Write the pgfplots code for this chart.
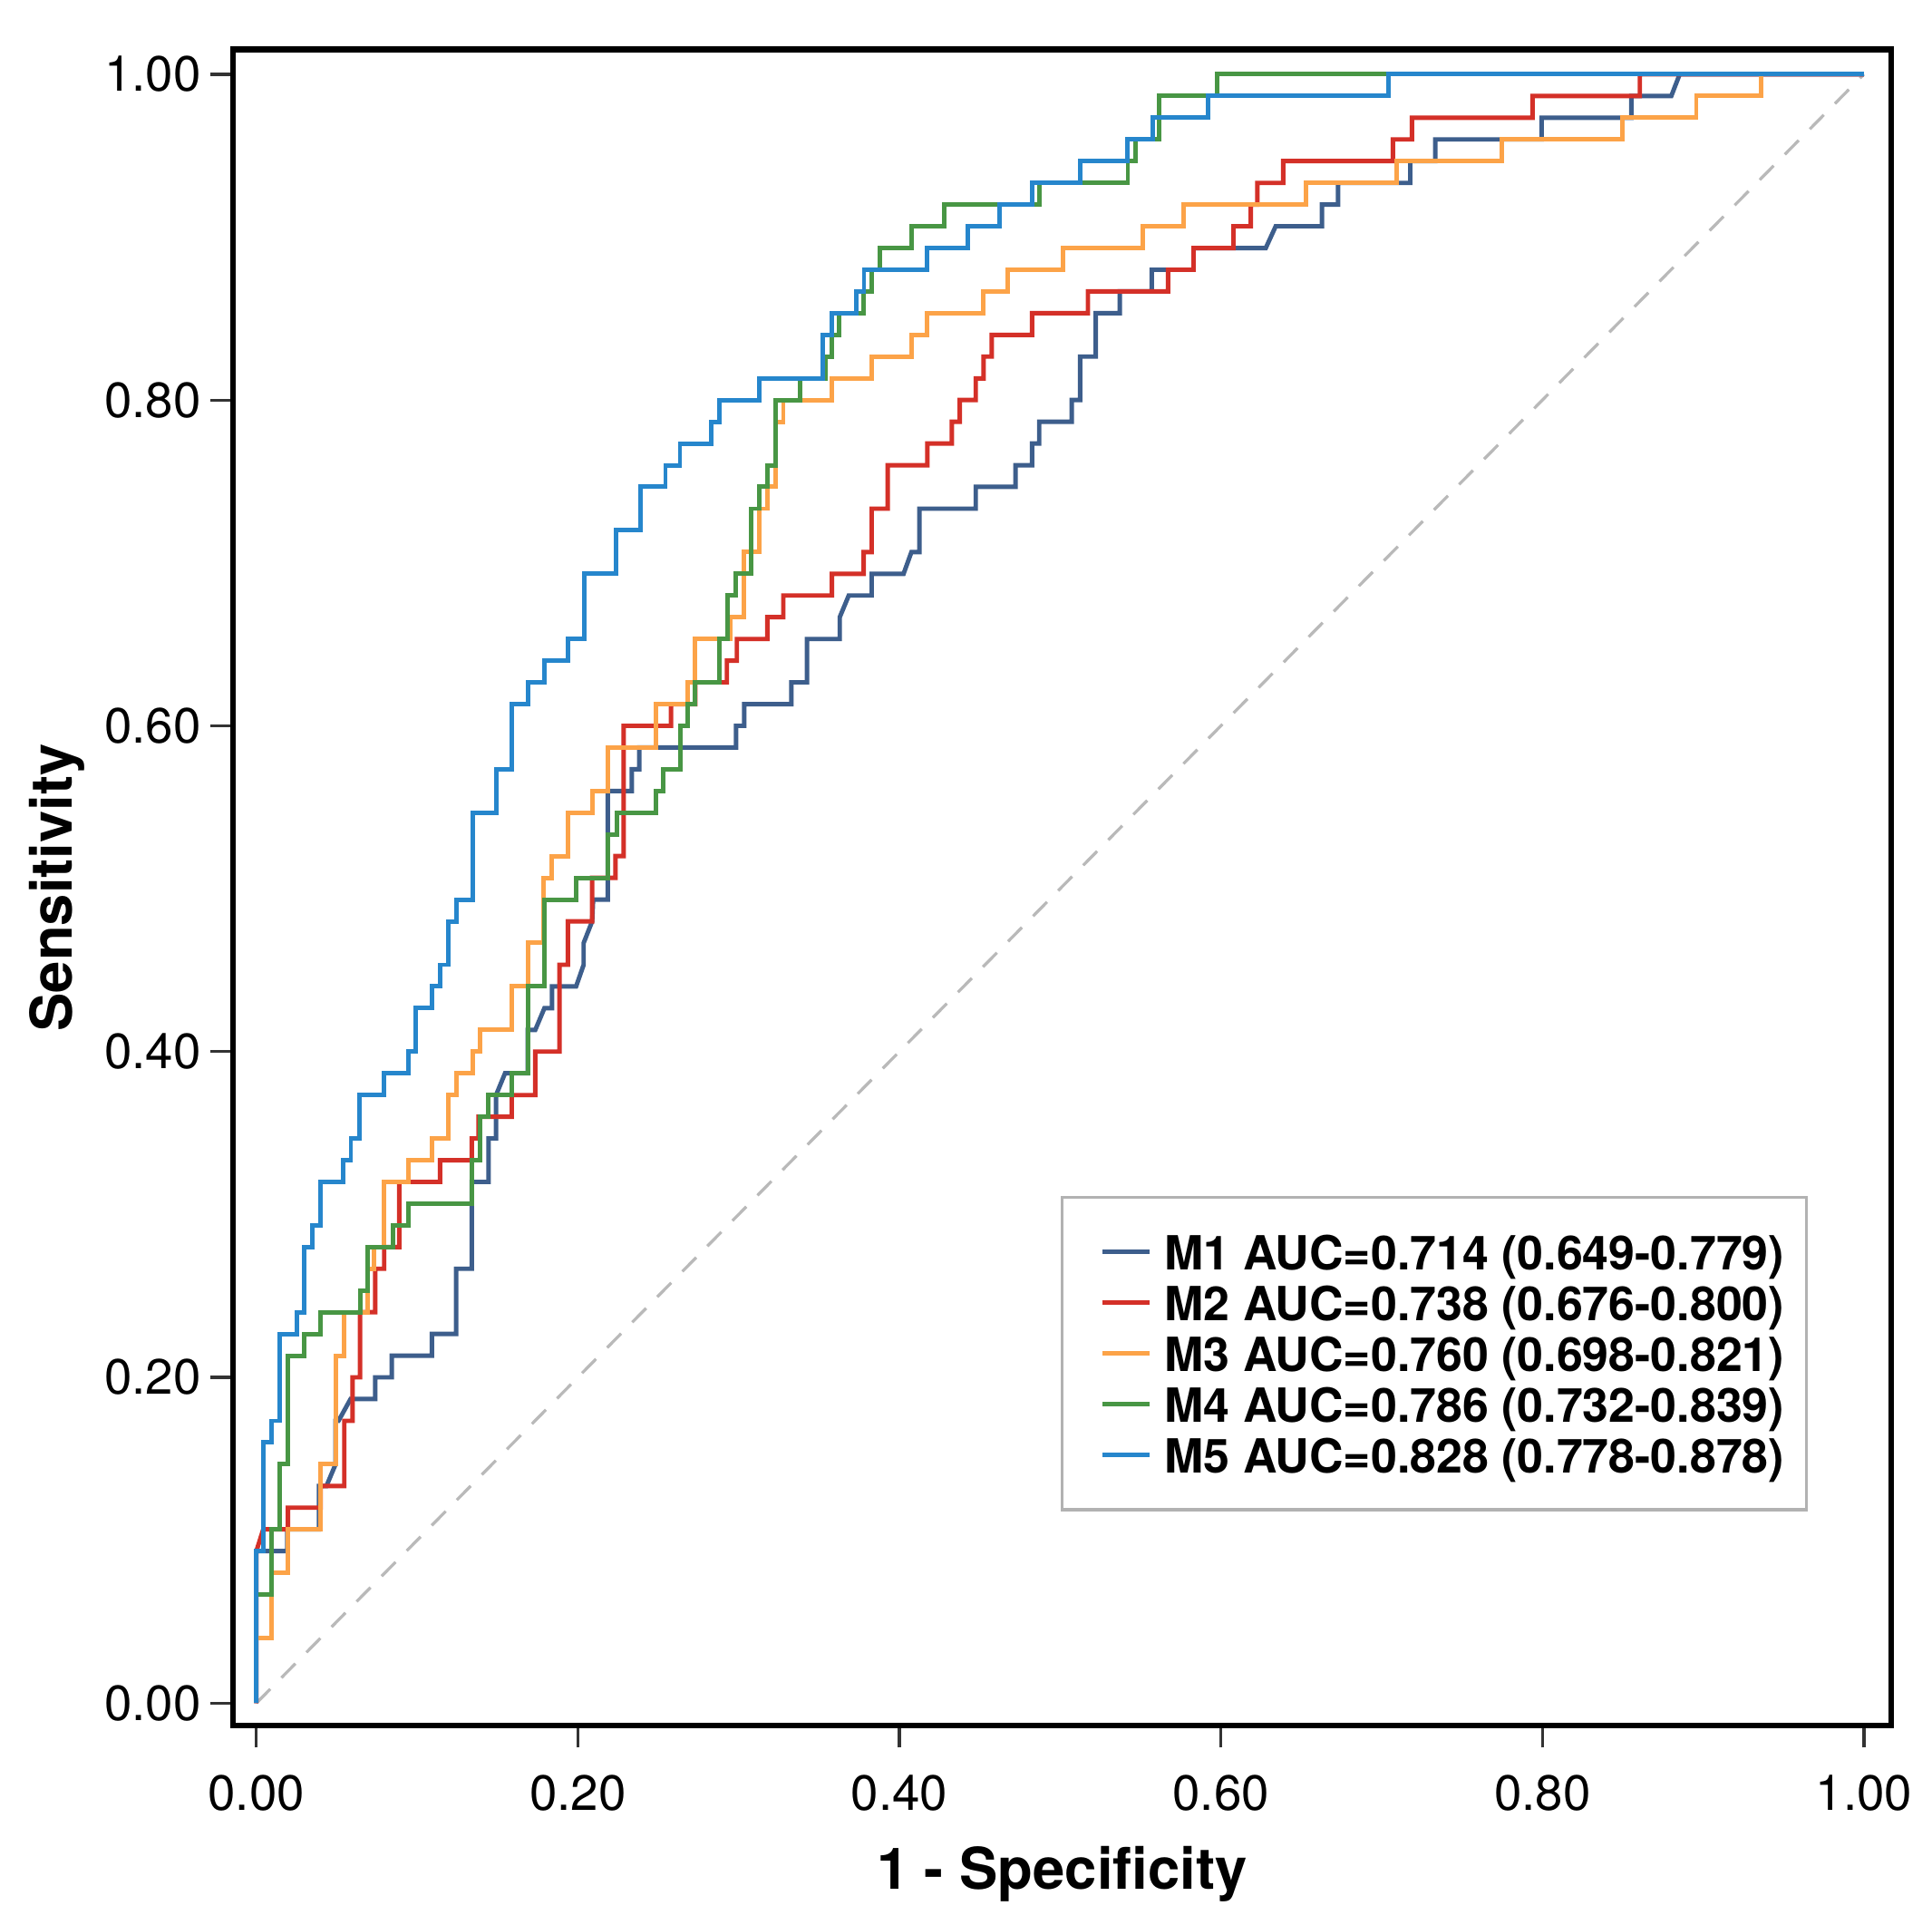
\documentclass[border=0pt]{standalone}
\usepackage{fontspec}
\setmainfont{TeX Gyre Heros}
\usepackage{pgfplots}
\usepackage{pgfplotstable}
\pgfplotsset{compat=1.18}

\definecolor{cMone}{RGB}{61,94,140}
\definecolor{cMtwo}{RGB}{212,48,40}
\definecolor{cMthree}{RGB}{252,163,72}
\definecolor{cMfour}{RGB}{72,150,68}
\definecolor{cMfive}{RGB}{38,134,204}
\definecolor{cDiag}{RGB}{185,185,185}

\pgfplotstableread{
x y
0 0
0 0.0933
0.0192 0.0933
0.0192 0.1067
0.0389 0.1067
0.0389 0.1333
0.0436 0.1333
0.0493 0.1467
0.0493 0.1733
0.0511 0.1733
0.0586 0.1867
0.0739 0.1867
0.0739 0.2000
0.0842 0.2000
0.0842 0.2133
0.1092 0.2133
0.1092 0.2267
0.1243 0.2267
0.1243 0.2667
0.1340 0.2667
0.1340 0.3200
0.1444 0.3200
0.1444 0.3467
0.1491 0.3467
0.1491 0.3733
0.1547 0.3867
0.1688 0.3867
0.1688 0.4133
0.1735 0.4133
0.1792 0.4267
0.1839 0.4267
0.1839 0.4400
0.1989 0.4400
0.2036 0.4533
0.2036 0.4667
0.2089 0.4800
0.2095 0.4933
0.2186 0.4933
0.2186 0.5600
0.2335 0.5600
0.2335 0.5733
0.2382 0.5733
0.2382 0.5867
0.2984 0.5867
0.2984 0.6000
0.3035 0.6000
0.3035 0.6133
0.3328 0.6133
0.3328 0.6267
0.3425 0.6267
0.3425 0.6533
0.3629 0.6533
0.3629 0.6667
0.3685 0.6800
0.3828 0.6800
0.3828 0.6933
0.4026 0.6933
0.4075 0.7067
0.4125 0.7067
0.4125 0.7333
0.4475 0.7333
0.4475 0.7467
0.4722 0.7467
0.4722 0.7600
0.4825 0.7600
0.4825 0.7733
0.4870 0.7733
0.4870 0.7867
0.5072 0.7867
0.5072 0.8000
0.5124 0.8000
0.5124 0.8267
0.5222 0.8267
0.5222 0.8533
0.5371 0.8533
0.5371 0.8667
0.5570 0.8667
0.5570 0.8800
0.5830 0.8800
0.5830 0.8933
0.6279 0.8933
0.6341 0.9067
0.6629 0.9067
0.6629 0.9200
0.6729 0.9200
0.6729 0.9333
0.7178 0.9333
0.7178 0.9467
0.7334 0.9467
0.7334 0.9600
0.7995 0.9600
0.7995 0.9733
0.8553 0.9733
0.8553 0.9867
0.8802 0.9867
0.8854 1.0000
1 1
}\mone

\pgfplotstableread{
x y
0 0
0 0.0933
0.0043 0.1067
0.0197 0.1067
0.0197 0.1200
0.0400 0.1200
0.0400 0.1333
0.0547 0.1333
0.0547 0.1733
0.0598 0.1733
0.0598 0.2000
0.0645 0.2000
0.0645 0.2400
0.0739 0.2400
0.0739 0.2667
0.0795 0.2667
0.0795 0.2800
0.0889 0.2800
0.0889 0.3200
0.1143 0.3200
0.1143 0.3333
0.1340 0.3333
0.1340 0.3467
0.1382 0.3467
0.1382 0.3600
0.1589 0.3600
0.1589 0.3733
0.1735 0.3733
0.1735 0.4000
0.1886 0.4000
0.1886 0.4533
0.1938 0.4533
0.1938 0.4800
0.2089 0.4800
0.2089 0.5067
0.2234 0.5067
0.2234 0.5200
0.2285 0.5200
0.2285 0.6000
0.2579 0.6000
0.2579 0.6133
0.2730 0.6133
0.2730 0.6267
0.2927 0.6267
0.2927 0.6400
0.2989 0.6400
0.2989 0.6533
0.3179 0.6533
0.3179 0.6667
0.3278 0.6667
0.3278 0.6800
0.3580 0.6800
0.3580 0.6933
0.3778 0.6933
0.3778 0.7067
0.3828 0.7067
0.3828 0.7333
0.3927 0.7333
0.3927 0.7600
0.4174 0.7600
0.4174 0.7733
0.4326 0.7733
0.4326 0.7867
0.4376 0.7867
0.4376 0.8000
0.4475 0.8000
0.4475 0.8133
0.4524 0.8133
0.4524 0.8267
0.4574 0.8267
0.4574 0.8400
0.4825 0.8400
0.4825 0.8533
0.5173 0.8533
0.5173 0.8667
0.5671 0.8667
0.5671 0.8800
0.5830 0.8800
0.5830 0.8933
0.6078 0.8933
0.6078 0.9067
0.6186 0.9067
0.6186 0.9200
0.6227 0.9200
0.6227 0.9333
0.6388 0.9333
0.6388 0.9467
0.7070 0.9467
0.7070 0.9600
0.7188 0.9600
0.7188 0.9733
0.7939 0.9733
0.7939 0.9867
0.8606 0.9867
0.8606 1.0000
1 1
}\mtwo

\pgfplotstableread{
x y
0 0
0 0.0400
0.0096 0.0400
0.0096 0.0800
0.0197 0.0800
0.0197 0.1067
0.0400 0.1067
0.0400 0.1467
0.0495 0.1467
0.0495 0.2133
0.0547 0.2133
0.0547 0.2400
0.0692 0.2400
0.0692 0.2667
0.0730 0.2667
0.0730 0.2800
0.0795 0.2800
0.0795 0.3200
0.0946 0.3200
0.0946 0.3333
0.1092 0.3333
0.1092 0.3467
0.1194 0.3467
0.1194 0.3733
0.1243 0.3733
0.1243 0.3867
0.1344 0.3867
0.1344 0.4000
0.1393 0.4000
0.1393 0.4133
0.1589 0.4133
0.1589 0.4400
0.1688 0.4400
0.1688 0.4667
0.1788 0.4667
0.1788 0.5067
0.1839 0.5067
0.1839 0.5200
0.1938 0.5200
0.1938 0.5467
0.2089 0.5467
0.2089 0.5600
0.2186 0.5600
0.2186 0.5867
0.2485 0.5867
0.2485 0.6133
0.2683 0.6133
0.2683 0.6267
0.2730 0.6267
0.2730 0.6533
0.2946 0.6533
0.2946 0.6667
0.3035 0.6667
0.3035 0.7067
0.3130 0.7067
0.3130 0.7333
0.3179 0.7333
0.3179 0.7467
0.3229 0.7467
0.3229 0.7867
0.3278 0.7867
0.3278 0.8000
0.3580 0.8000
0.3580 0.8133
0.3828 0.8133
0.3828 0.8267
0.4075 0.8267
0.4075 0.8400
0.4174 0.8400
0.4174 0.8533
0.4524 0.8533
0.4524 0.8667
0.4672 0.8667
0.4672 0.8800
0.5018 0.8800
0.5018 0.8933
0.5513 0.8933
0.5513 0.9067
0.5767 0.9067
0.5767 0.9200
0.6527 0.9200
0.6527 0.9333
0.7095 0.9333
0.7095 0.9467
0.7750 0.9467
0.7750 0.9600
0.8500 0.9600
0.8500 0.9733
0.8957 0.9733
0.8957 0.9867
0.9360 0.9867
0.9360 1.0000
1 1
}\mthree

\pgfplotstableread{
x y
0 0
0 0.0667
0.0096 0.0667
0.0096 0.1067
0.0147 0.1067
0.0147 0.1467
0.0197 0.1467
0.0197 0.2133
0.0297 0.2133
0.0297 0.2267
0.0400 0.2267
0.0400 0.2400
0.0645 0.2400
0.0645 0.2533
0.0692 0.2533
0.0692 0.2800
0.0848 0.2800
0.0848 0.2933
0.0946 0.2933
0.0946 0.3067
0.1340 0.3067
0.1340 0.3333
0.1393 0.3333
0.1393 0.3600
0.1444 0.3600
0.1444 0.3733
0.1589 0.3733
0.1589 0.3867
0.1688 0.3867
0.1688 0.4400
0.1792 0.4400
0.1792 0.4933
0.1989 0.4933
0.1989 0.5067
0.2188 0.5067
0.2188 0.5333
0.2241 0.5333
0.2241 0.5467
0.2485 0.5467
0.2485 0.5600
0.2532 0.5600
0.2532 0.5733
0.2636 0.5733
0.2636 0.6000
0.2683 0.6000
0.2683 0.6133
0.2730 0.6133
0.2730 0.6267
0.2881 0.6267
0.2881 0.6533
0.2933 0.6533
0.2933 0.6800
0.2981 0.6800
0.2981 0.6933
0.3080 0.6933
0.3080 0.7333
0.3130 0.7333
0.3130 0.7467
0.3179 0.7467
0.3179 0.7600
0.3229 0.7600
0.3229 0.8000
0.3383 0.8000
0.3383 0.8133
0.3541 0.8133
0.3541 0.8267
0.3581 0.8267
0.3581 0.8400
0.3624 0.8400
0.3624 0.8533
0.3779 0.8533
0.3779 0.8667
0.3828 0.8667
0.3828 0.8800
0.3878 0.8800
0.3878 0.8933
0.4075 0.8933
0.4075 0.9067
0.4277 0.9067
0.4277 0.9200
0.4871 0.9200
0.4871 0.9333
0.5421 0.9333
0.5421 0.9467
0.5470 0.9467
0.5470 0.9600
0.5618 0.9600
0.5618 0.9867
0.5977 0.9867
0.5977 1.0000
1 1
}\mfour

\pgfplotstableread{
x y
0 0
0 0.0933
0.0043 0.0933
0.0043 0.1600
0.0096 0.1600
0.0096 0.1733
0.0147 0.1733
0.0147 0.2267
0.0250 0.2267
0.0250 0.2400
0.0297 0.2400
0.0297 0.2800
0.0348 0.2800
0.0348 0.2933
0.0400 0.2933
0.0400 0.3200
0.0541 0.3200
0.0541 0.3333
0.0588 0.3333
0.0588 0.3467
0.0641 0.3467
0.0641 0.3733
0.0795 0.3733
0.0795 0.3867
0.0946 0.3867
0.0946 0.4000
0.0993 0.4000
0.0993 0.4267
0.1092 0.4267
0.1092 0.4400
0.1143 0.4400
0.1143 0.4533
0.1194 0.4533
0.1194 0.4800
0.1243 0.4800
0.1243 0.4933
0.1344 0.4933
0.1344 0.5467
0.1491 0.5467
0.1491 0.5733
0.1589 0.5733
0.1589 0.6133
0.1688 0.6133
0.1688 0.6267
0.1792 0.6267
0.1792 0.6400
0.1938 0.6400
0.1938 0.6533
0.2040 0.6533
0.2040 0.6933
0.2240 0.6933
0.2240 0.7200
0.2390 0.7200
0.2390 0.7467
0.2545 0.7467
0.2545 0.7600
0.2635 0.7600
0.2635 0.7733
0.2830 0.7733
0.2830 0.7867
0.2880 0.7867
0.2880 0.8000
0.3130 0.8000
0.3130 0.8133
0.3525 0.8133
0.3525 0.8400
0.3580 0.8400
0.3580 0.8533
0.3730 0.8533
0.3730 0.8667
0.3780 0.8667
0.3780 0.8800
0.4174 0.8800
0.4174 0.8933
0.4425 0.8933
0.4425 0.9067
0.4623 0.9067
0.4623 0.9200
0.4825 0.9200
0.4825 0.9333
0.5124 0.9333
0.5124 0.9467
0.5420 0.9467
0.5420 0.9600
0.5574 0.9600
0.5574 0.9733
0.5920 0.9733
0.5920 0.9867
0.7040 0.9867
0.7040 1.0000
1 1
}\mfive

\begin{document}
\begin{tikzpicture}
\begin{axis}[
  name=ax,
  scale only axis,
  width=334.75pt, height=338.25pt,
  xmin=-0.01464, xmax=1.01695,
  ymin=-0.01369, ymax=1.0152,
  axis line style={line width=1.2pt, black},
  xtick={0,0.2,0.4,0.6,0.8,1},
  ytick={0,0.2,0.4,0.6,0.8,1},
  xticklabels={0.00,0.20,0.40,0.60,0.80,1.00},
  yticklabels={0.00,0.20,0.40,0.60,0.80,1.00},
  xtick pos=bottom, ytick pos=left,
  tick align=outside,
  major tick length=4.5pt,
  tick style={line width=0.6pt, black!80},
  ticklabel style={font=\fontsize{10}{12}\selectfont, text=black},
  xticklabel style={inner ysep=5.25pt},
  yticklabel style={inner xsep=1.75pt},
  xlabel={\textbf{1 - Specificity}},
  ylabel={\textbf{Sensitivity}},
  label style={font=\fontsize{11.6}{13}\selectfont},
  xlabel style={at={(rel axis cs:0.5,0)}, anchor=base, yshift=-33pt},
  ylabel style={at={(rel axis cs:0,0.5)}, anchor=base, yshift=32.5pt},
  legend style={
    at={(rel axis cs:1,0)}, anchor=south east, xshift=-16.75pt, yshift=43.25pt,
    draw=black!30, line width=0.6pt, fill=white,
    inner xsep=4.5pt, inner ysep=5.9pt,
    font=\fontsize{9.5}{10.25}\selectfont\bfseries,
    row sep=0pt,
    nodes={inner sep=0pt, text height=8.75pt, text depth=1.5pt},
    cells={anchor=west},
  },
  legend image code/.code={
    \path[draw=none] (0pt,0pt) -- (16.25pt,0pt);
    \draw[#1, line width=0.9pt] (3.75pt,0pt) -- (13.25pt,0pt);
  },
  every axis plot/.append style={line width=0.9pt, line join=miter},
]
\addplot[cDiag, dash pattern=on 4pt off 3.2pt, line width=0.6pt, forget plot] coordinates {(0,0) (1,1)};
\addplot[cMone] table {\mone};
\addlegendentry{M1 AUC=0.714 (0.649-0.779)}
\addplot[cMtwo] table {\mtwo};
\addlegendentry{M2 AUC=0.738 (0.676-0.800)}
\addplot[cMthree] table {\mthree};
\addlegendentry{M3 AUC=0.760 (0.698-0.821)}
\addplot[cMfour] table {\mfour};
\addlegendentry{M4 AUC=0.786 (0.732-0.839)}
\addplot[cMfive] table {\mfive};
\addlegendentry{M5 AUC=0.828 (0.778-0.878)}
\end{axis}
\pgfresetboundingbox
\path ([shift={(-47pt,-40.25pt)}]ax.south west) rectangle ([shift={(8.25pt,10pt)}]ax.north east);
\end{tikzpicture}
\end{document}
